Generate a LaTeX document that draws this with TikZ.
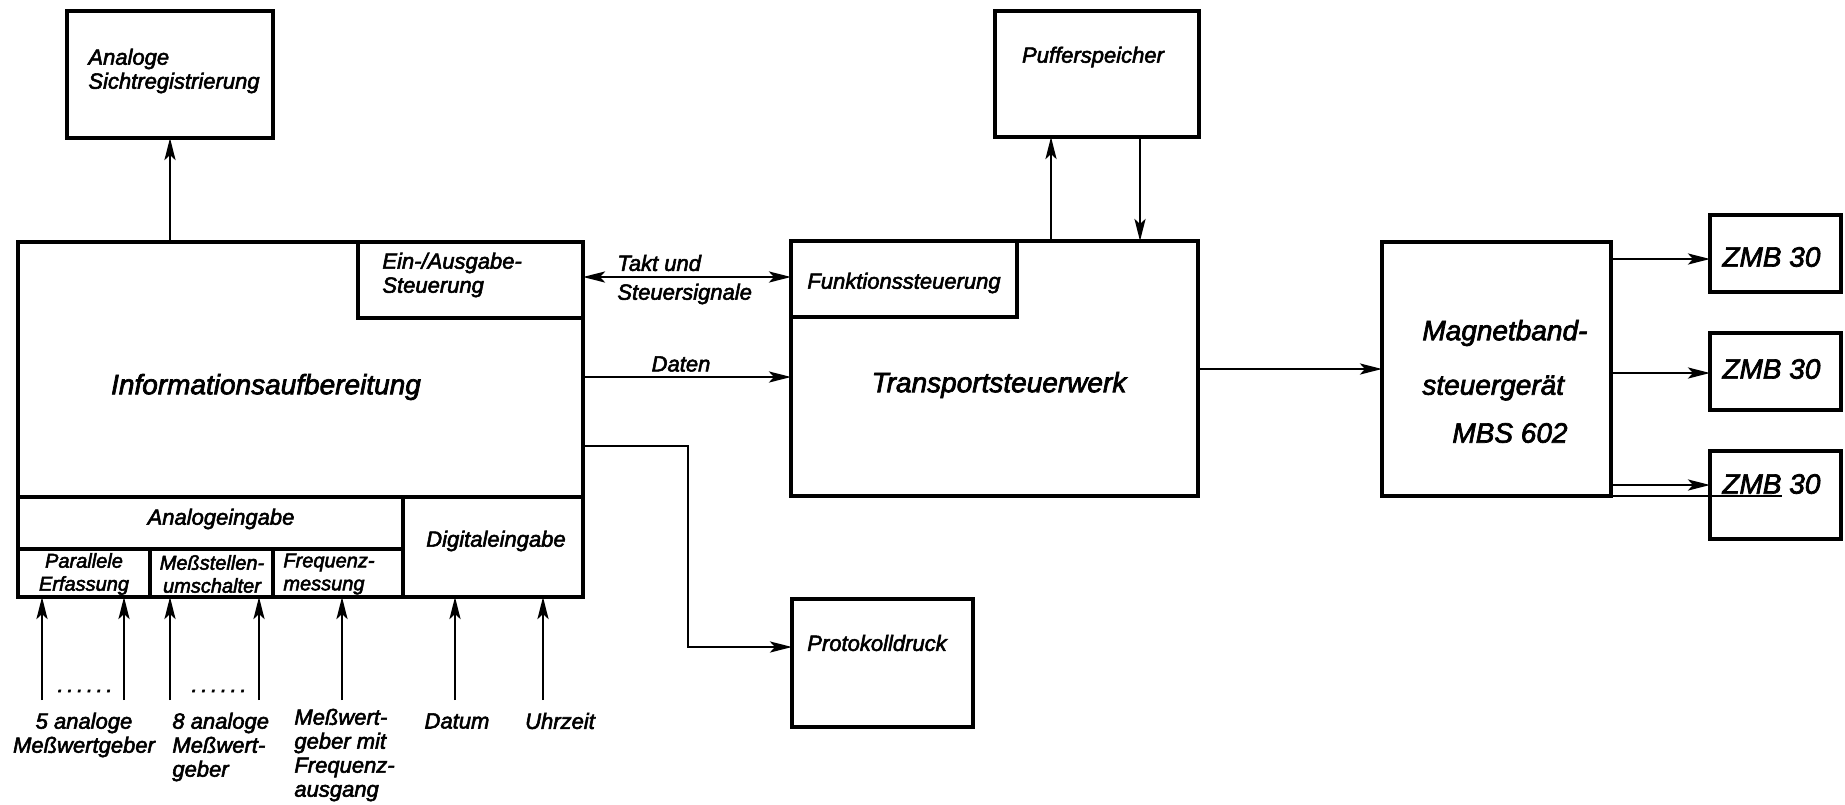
\documentclass[tikz,border=0pt]{standalone}
\usepackage{fontspec}
\setmainfont{Liberation Sans}[FakeBold=2.5]
\usetikzlibrary{arrows.meta,fit}
\begin{document}
\begin{tikzpicture}[x=0.5pt,y=-0.5pt,
  box/.style={draw, line width=2pt, inner sep=0pt, outer sep=0pt},
  lbl/.style={inner sep=0pt, font=\fontsize{11}{12}\selectfont\itshape},
  sml/.style={inner sep=0pt, font=\fontsize{10}{11.5}\selectfont\itshape},
  big/.style={inner sep=0pt, font=\fontsize{14}{16}\selectfont\itshape},
  tip/.style={},
  arr/.style={line width=1.4pt, -{Stealth[length=11pt,width=5.5pt,inset=2.5pt]}},
  arrboth/.style={line width=1.4pt, {Stealth[length=11pt,width=5.5pt,inset=2.5pt]}-{Stealth[length=11pt,width=5.5pt,inset=2.5pt]}}]
\fill[white] (0,0) rectangle (1845,804);
\useasboundingbox (0,0) rectangle (1845,804);

% --- Analoge Sichtregistrierung
\node[box, fit={(67,11)(273,138)}] (asr) {};
\node[lbl, anchor=west, align=left] (asrt) at (88,71) {Analoge\\Sichtregistrierung};

% --- Informationsaufbereitung block
\node[box, fit={(18,242)(583,597)}] (main) {};
\node[box, fit={(358,242)(583,318)}] (eas) {};
\node[box, fit={(18,497)(403,549)}] (ana) {};
\node[box, fit={(403,497)(583,597)}] (dig) {};
\node[box, fit={(18,549)(150,597)}] (par) {};
\node[box, fit={(150,549)(273,597)}] (mss) {};
\node[box, fit={(273,549)(403,597)}] (frq) {};

\node[big] (infot) at (266,387) {Informationsaufbereitung};
\node[lbl, anchor=west, align=left] (east) at (382,275) {Ein-/Ausgabe-\\Steuerung};
\node[lbl] (anat) at (221,519) {Analogeingabe};
\node[lbl] (digt) at (496,541) {Digitaleingabe};
\node[sml, align=center] (part) at (84,574) {Parallele\\Erfassung};
\node[sml, align=center] (msst) at (212,574) {Meßstellen-\\umschalter};
\node[sml, anchor=west, align=left] (frqt) at (283,574) {Frequenz-\\messung};

\draw[arr] (main.north -| asr.south) -- (asr.south);

% --- inputs
\foreach \x [count=\i] in {42,124,170,259,342,455,543} {
  \coordinate (in\i) at (\x,700);
  \draw[arr] (in\i) -- (in\i |- main.south);
}
\node[lbl] (dots1) at (85,691) {.\,.\,.\,.\,.\,.};
\node[lbl] (dots2) at (219,691) {.\,.\,.\,.\,.\,.};
\node[lbl, align=center] (src1) at (84,735) {5 analoge\\Meßwertgeber};
\node[lbl, anchor=west, align=left] (src2) at (172,747) {8 analoge\\Meßwert-\\geber};
\node[lbl, anchor=west, align=left] (src3) at (294,755) {Meßwert-\\geber mit\\Frequenz-\\ausgang};
\node[lbl] (src4) at (457,721) {Datum};
\node[lbl] (src5) at (560,721) {Uhrzeit};

% --- Transportsteuerwerk
\node[box, fit={(791,241)(1198,496)}] (trans) {};
\node[box, fit={(791,241)(1017,317)}] (funk) {};
\node[lbl] (funkt) at (904,283) {Funktionssteuerung};
\node[big] (transt) at (999,385) {Transportsteuerwerk};

\draw[arrboth] (eas.east |- 0,277) -- (funk.west |- 0,277);
\node[lbl, anchor=west] (takt) at (617,263) {Takt und};
\node[lbl, anchor=west] (steu) at (617,294) {Steuersignale};

\coordinate (dat) at (700,377);
\draw[arr] (main.east |- dat) -- (trans.west |- dat);
\node[lbl] (datt) at (681,364) {Daten};

% --- Pufferspeicher
\node[box, fit={(995,11)(1199,137)}] (puf) {};
\node[lbl] (puft) at (1093,57) {Pufferspeicher};
\coordinate (pu1) at (1051,0);
\coordinate (pu2) at (1140,0);
\draw[arr] (trans.north -| pu1) -- (puf.south -| pu1);
\draw[arr] (puf.south -| pu2) -- (trans.north -| pu2);

% --- Protokolldruck
\node[box, fit={(792,599)(973,727)}] (prot) {};
\node[lbl] (prott) at (877,643) {Protokolldruck};
\coordinate (pk) at (688,647);
\draw[arr] (main.east |- 0,446) -| (pk) -- (prot.west |- pk);

% --- Magnetbandsteuergeraet
\node[box, fit={(1382,242)(1611,496)}] (mbs) {};
\node[big, anchor=west] (mbst1) at (1422,333) {Magnetband-};
\node[big, anchor=west] (mbst2) at (1422,388) {steuergerät};
\node[big, anchor=west] (mbst3) at (1452,433) {MBS 602};
\draw[arr] (trans.east |- mbs.west) -- (mbs.west);

% --- ZMB 30
\node[box, fit={(1710,215)(1841,292)}] (zmb1) {};
\node[box, fit={(1710,333)(1841,410)}] (zmb2) {};
\node[box, fit={(1710,451)(1841,539)}] (zmb3) {};
\node[big, anchor=west] (zt1) at (1722,257) {ZMB 30};
\node[big, anchor=west] (zt2) at (1722,369) {ZMB 30};
\node[big, anchor=west] (zt3) at (1722,484) {ZMB 30};
\draw[arr] (mbs.east |- 0,259) -- (zmb1.west |- 0,259);
\draw[arr] (mbs.east |- 0,373) -- (zmb2.west |- 0,373);
\draw[arr] (mbs.east |- 0,485) -- (zmb3.west |- 0,485);
\draw[line width=1pt] (mbs.south east) -- ++(171,0);
\end{tikzpicture}
\end{document}
